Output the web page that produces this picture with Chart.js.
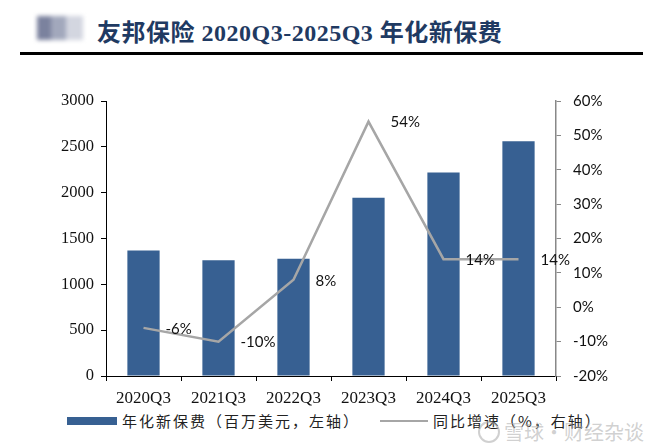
<!DOCTYPE html>
<html>
<head>
<meta charset="utf-8">
<script src="https://cdn.jsdelivr.net/npm/chart.js@4.4.1/dist/chart.umd.min.js"></script>
<style>
  html, body { margin: 0; padding: 0; background: #fff; }
  body { width: 661px; height: 448px; position: relative; overflow: hidden; }
  #logo { position: absolute; left: 37px; top: 16px; width: 46px; height: 24px; filter: blur(2px); }
  #logo span { position: absolute; top: 0; height: 24px; }
  #title { position: absolute; left: 97px; top: 13px; font: bold 24px "Liberation Serif", "Noto Sans CJK SC", serif; color: #1f3a62; white-space: nowrap; letter-spacing: 0.5px; }
  #rule { position: absolute; left: 20px; top: 52px; width: 623px; height: 3px; background: #000; }
  #chartBox { position: absolute; left: 0; top: 80px; width: 661px; height: 326px; }
  .legend { position: absolute; top: 410px; font: 15px "Noto Sans CJK SC", sans-serif; color: #222; letter-spacing: 2px; white-space: nowrap; line-height: 22px; }
  .swatch { position: absolute; }
  #wm { position: absolute; left: 478px; top: 417px; font: 20px "Noto Sans CJK SC", sans-serif; color: rgba(170,170,170,0.55); white-space: nowrap; }
  #wm i { display: inline-block; width: 18px; height: 18px; border: 2px solid rgba(170,170,170,0.55); border-radius: 50%; vertical-align: -3px; margin-right: 4px; }
</style>
</head>
<body>
<div id="logo">
  <span style="left:0;width:14px;background:#7b829e"></span>
  <span style="left:14px;width:15px;background:#a2a8bc"></span>
  <span style="left:29px;width:17px;background:#d3d6e0"></span>
</div>
<div id="title">友邦保险 2020Q3-2025Q3 年化新保费</div>
<div id="rule"></div>
<div id="chartBox"><canvas id="chart"></canvas></div>
<div class="swatch" style="left:67px;top:417px;width:50px;height:8px;background:#376092"></div>
<div class="legend" style="left:122px">年化新保费（百万美元，左轴）</div>
<div class="swatch" style="left:380px;top:420px;width:48px;height:2px;background:#a6a6a6"></div>
<div class="legend" style="left:433px">同比增速（%，右轴）</div>
<div id="wm"><i></i>雪球·财经杂谈</div>
<script>
const categories = ["2020Q3", "2021Q3", "2022Q3", "2023Q3", "2024Q3", "2025Q3"];
const premium = [1370, 1262, 1280, 1945, 2220, 2560];
const growth = [-6, -10, 8, 54, 14, 14];
const growthLabels = ["-6%", "-10%", "8%", "54%", "14%", "14%"];

// draws the % labels just right of each line point
const pointLabels = {
    id: 'pointLabels',
    afterDatasetsDraw(chart) {
        const ctx = chart.ctx;
        const meta = chart.getDatasetMeta(1);
        ctx.save();
        ctx.font = '15px Lato, sans-serif';
        ctx.fillStyle = '#111';
        ctx.textAlign = 'left';
        ctx.textBaseline = 'middle';
        meta.data.forEach((pt, i) => {
            ctx.fillText(growthLabels[i], pt.x + 22, pt.y + 1);
        });
        ctx.restore();
    }
};

const ctx = document.getElementById('chart').getContext('2d');
new Chart(ctx, {
    data: {
        labels: categories,
        datasets: [{
            type: 'bar',
            data: premium,
            backgroundColor: '#376092',
            yAxisID: 'y',
            order: 1,
            categoryPercentage: 1,
            barPercentage: 0.43
        }, {
            type: 'line',
            data: growth,
            borderColor: '#a6a6a6',
            borderWidth: 2.5,
            pointRadius: 0,
            tension: 0,
            yAxisID: 'y1',
            order: 0
        }]
    },
    options: {
        responsive: true,
        maintainAspectRatio: false,
        animation: false,
        layout: { padding: { top: 21, left: 0, right: 0, bottom: 0 } },
        plugins: {
            legend: { display: false },
            tooltip: { enabled: false }
        },
        scales: {
            x: {
                offset: true,
                grid: { drawOnChartArea: false, tickLength: 5, color: '#000', offset: true },
                border: { color: '#000', width: 1 },
                ticks: { color: '#111', padding: 7, font: { family: 'Liberation Serif', size: 17 } },
                afterFit(s) { s.height = 30; }
            },
            y: {
                position: 'left',
                min: 0,
                max: 3000,
                ticks: {
                    stepSize: 500,
                    color: '#111',
                    padding: 7,
                    font: { family: 'Liberation Serif', size: 16.5 },
                    callback: v => String(v)
                },
                grid: { drawOnChartArea: false, tickLength: 5, color: '#000' },
                border: { color: '#000', width: 1 },
                afterFit(s) { s.width = 106; }
            },
            y1: {
                position: 'right',
                min: -20,
                max: 60,
                ticks: {
                    stepSize: 10,
                    color: '#111',
                    padding: 12,
                    font: { family: 'Lato', size: 15 },
                    callback: v => v + '%'
                },
                grid: { drawOnChartArea: false, tickLength: 5, color: '#888' },
                border: { color: '#888', width: 1.5 },
                afterFit(s) { s.width = 105; }
            }
        }
    },
    plugins: [pointLabels]
});
</script>
</body>
</html>
